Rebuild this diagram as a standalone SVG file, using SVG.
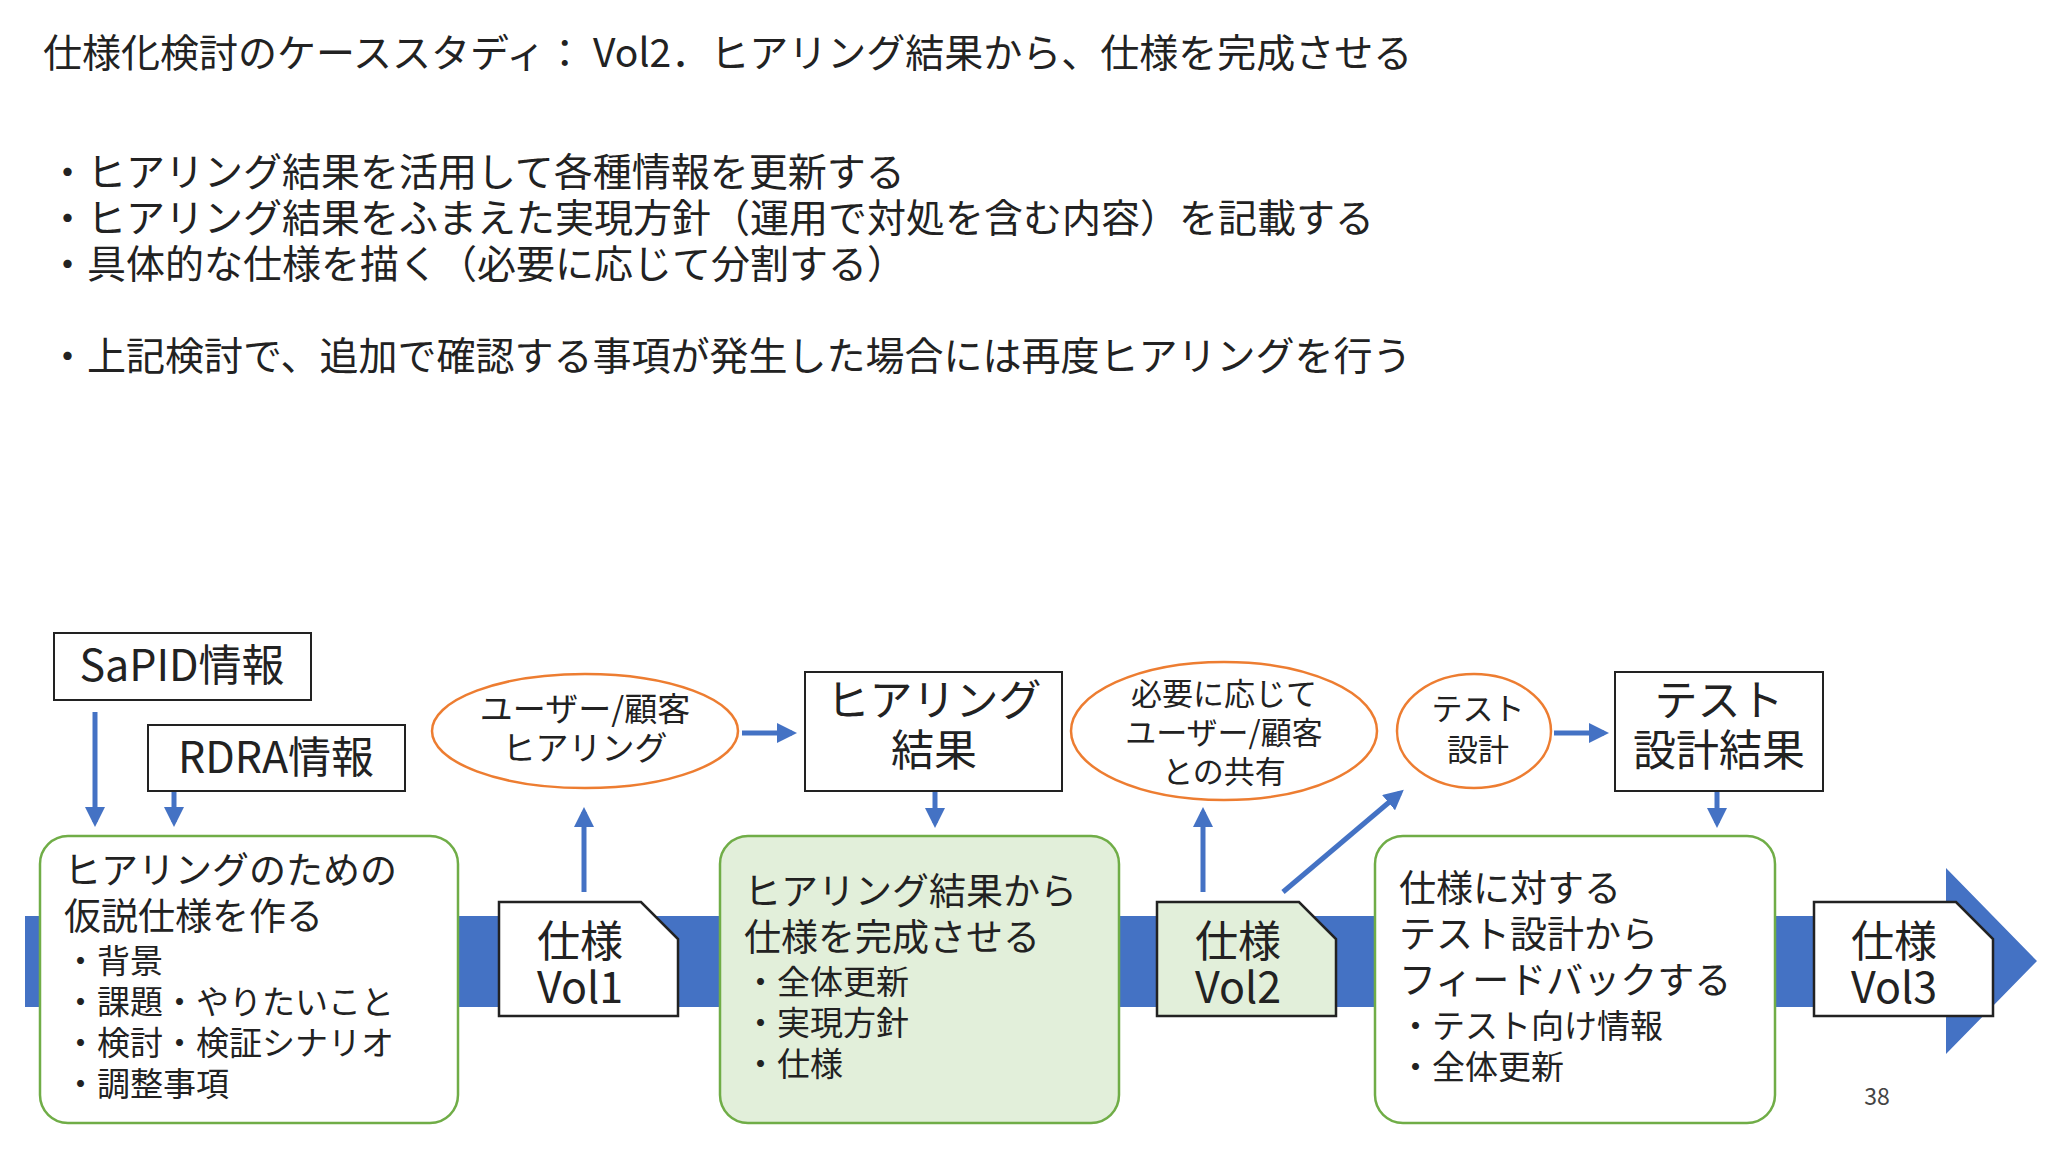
<svg xmlns="http://www.w3.org/2000/svg" width="2048" height="1152" viewBox="0 0 2048 1152">
<style>
text{font-family:"Noto Sans CJK JP","Noto Sans",sans-serif;fill:#222}
.t{font-size:39px}
.box{fill:#fff;stroke:#222;stroke-width:2}
.rr{fill:#fff;stroke:#70AD47;stroke-width:2.5}
.rrg{fill:#E2EFDA;stroke:#70AD47;stroke-width:2.5}
.el{fill:#fff;stroke:#ED7D31;stroke-width:2.5}
.doc{fill:#fff;stroke:#222;stroke-width:2.5}
.c{stroke:#4472C4;stroke-width:5;fill:none}
.m{text-anchor:middle}
.b{font-size:43px}
.s{font-size:37px}
.n{font-size:33px}
.e{font-size:33px}
.e2{font-size:31px}
</style>
<defs>
<marker id="ah" markerWidth="4" markerHeight="4" refX="3" refY="2" orient="auto" markerUnits="strokeWidth"><path d="M0,0 L4,2 L0,4 z" fill="#4472C4"/></marker>
</defs>
<rect width="2048" height="1152" fill="#fff"/>
<text class="t" x="43" y="67">仕様化検討のケーススタディ： Vol2．ヒアリング結果から、仕様を完成させる</text>
<text class="t" x="48" y="186">・ヒアリング結果を活用して各種情報を更新する</text>
<text class="t" x="48" y="232">・ヒアリング結果をふまえた実現方針（運用で対処を含む内容）を記載する</text>
<text class="t" x="48" y="278">・具体的な仕様を描く（必要に応じて分割する）</text>
<text class="t" x="48" y="370">・上記検討で、追加で確認する事項が発生した場合には再度ヒアリングを行う</text>

<g id="band"><path d="M25,916 H1946 V868 L2037,961 L1946,1054 V1007 H25 Z" fill="#4472C4"/></g>

<g id="connectors">
<line class="c" x1="95" y1="712" x2="95" y2="822" marker-end="url(#ah)"/>
<line class="c" x1="174" y1="790" x2="174" y2="822" marker-end="url(#ah)"/>
<line class="c" x1="584" y1="892" x2="584" y2="812" marker-end="url(#ah)"/>
<line class="c" x1="742" y1="733" x2="792" y2="733" marker-end="url(#ah)"/>
<line class="c" x1="935" y1="790" x2="935" y2="823" marker-end="url(#ah)"/>
<line class="c" x1="1203" y1="892" x2="1203" y2="812" marker-end="url(#ah)"/>
<line class="c" x1="1283" y1="892" x2="1400" y2="793" marker-end="url(#ah)"/>
<line class="c" x1="1554" y1="733" x2="1604" y2="733" marker-end="url(#ah)"/>
<line class="c" x1="1717" y1="790" x2="1717" y2="823" marker-end="url(#ah)"/>
</g>

<g id="sapid"><rect class="box" x="54" y="633" width="257" height="67"/><text class="b m" x="182" y="681">SaPID情報</text></g>
<g id="rdra"><rect class="box" x="148" y="725" width="257" height="66"/><text class="b m" x="276" y="773">RDRA情報</text></g>

<g id="box1"><rect class="rr" x="40" y="836" width="418" height="287" rx="28"/>
<text class="s" x="64" y="884">ヒアリングのための</text>
<text class="s" x="64" y="930">仮説仕様を作る</text>
<text class="n" x="64" y="973">・背景</text>
<text class="n" x="64" y="1014">・課題・やりたいこと</text>
<text class="n" x="64" y="1055">・検討・検証シナリオ</text>
<text class="n" x="64" y="1096">・調整事項</text></g>

<g id="vol1"><path class="doc" d="M499,902 H641 L678,939 V1016 H499 Z"/><text class="b m" x="580" y="957">仕様</text><text class="b m" x="580" y="1003">Vol1</text></g>

<g id="ell1"><ellipse class="el" cx="585" cy="731" rx="153" ry="57"/><text class="e m" x="585" y="721">ユーザー/顧客</text><text class="e m" x="585" y="760">ヒアリング</text></g>

<g id="hres"><rect class="box" x="805" y="672" width="257" height="119"/><text class="b m" x="934" y="716">ヒアリング</text><text class="b m" x="934" y="766">結果</text></g>

<g id="box2"><rect class="rrg" x="720" y="836" width="399" height="287" rx="28"/>
<text class="s" x="744" y="905">ヒアリング結果から</text>
<text class="s" x="744" y="951">仕様を完成させる</text>
<text class="n" x="744" y="994">・全体更新</text>
<text class="n" x="744" y="1035">・実現方針</text>
<text class="n" x="744" y="1076">・仕様</text></g>

<g id="vol2"><path class="doc" d="M1157,902 H1299 L1336,939 V1016 H1157 Z" style="fill:#E2EFDA"/><text class="b m" x="1238" y="957">仕様</text><text class="b m" x="1238" y="1003">Vol2</text></g>

<g id="ell2"><ellipse class="el" cx="1224" cy="731" rx="153" ry="69"/><text class="e2 m" x="1224" y="705">必要に応じて</text><text class="e2 m" x="1224" y="744">ユーザー/顧客</text><text class="e2 m" x="1224" y="783">との共有</text></g>

<g id="ell3"><ellipse class="el" cx="1474" cy="731" rx="77" ry="57"/><text class="e2 m" x="1478" y="720">テスト</text><text class="e2 m" x="1478" y="761">設計</text></g>

<g id="tres"><rect class="box" x="1615" y="672" width="208" height="119"/><text class="b m" x="1719" y="716">テスト</text><text class="b m" x="1719" y="766">設計結果</text></g>

<g id="box3"><rect class="rr" x="1375" y="836" width="400" height="287" rx="28"/>
<text class="s" x="1399" y="902">仕様に対する</text>
<text class="s" x="1399" y="948">テスト設計から</text>
<text class="s" x="1399" y="994">フィードバックする</text>
<text class="n" x="1399" y="1038">・テスト向け情報</text>
<text class="n" x="1399" y="1079">・全体更新</text></g>

<g id="vol3"><path class="doc" d="M1814,902 H1956 L1993,939 V1016 H1814 Z"/><text class="b m" x="1894" y="957">仕様</text><text class="b m" x="1894" y="1003">Vol3</text></g>

<text x="1877" y="1105" style="font-size:23px;fill:#444" class="m">38</text>
</svg>
